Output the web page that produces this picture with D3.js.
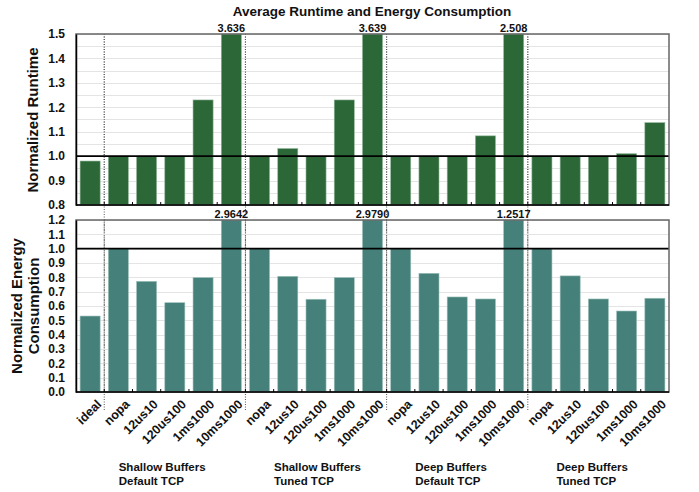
<!DOCTYPE html>
<html>
<head>
<meta charset="utf-8">
<script src="https://cdn.jsdelivr.net/npm/d3@7"></script>
<style>
  html, body { margin: 0; padding: 0; background: #fff; }
  svg { display: block; font-family: "Liberation Sans", Arial, Helvetica, sans-serif; font-weight: bold; }
</style>
</head>
<body>
<svg id="chart" width="699" height="492"></svg>
<script>
// Configurations along the x axis (one bar each)
const configs = ["ideal",
  "nopa", "12us10", "120us100", "1ms1000", "10ms1000",
  "nopa", "12us10", "120us100", "1ms1000", "10ms1000",
  "nopa", "12us10", "120us100", "1ms1000", "10ms1000",
  "nopa", "12us10", "120us100", "1ms1000", "10ms1000"];

// Group captions (two lines each)
const groupLines = [
  ["Shallow Buffers", "Default TCP"],
  ["Shallow Buffers", "Tuned TCP"],
  ["Deep Buffers", "Default TCP"],
  ["Deep Buffers", "Tuned TCP"]
];

// Normalized runtime per bar
const runtime = [0.98,
  1.0, 1.0, 1.0, 1.23, 3.636,
  1.0, 1.031, 1.0, 1.23, 3.639,
  1.0, 1.0, 1.0, 1.083, 2.508,
  1.0, 1.0, 1.0, 1.01, 1.137];

// Normalized energy consumption per bar
const energy = [0.53,
  1.0, 0.772, 0.623, 0.798, 2.9642,
  1.0, 0.807, 0.647, 0.798, 2.9790,
  1.0, 0.828, 0.663, 0.649, 1.2517,
  1.0, 0.81, 0.649, 0.565, 0.654];

const runtimeTicks = [0.8, 0.9, 1.0, 1.1, 1.2, 1.3, 1.4, 1.5];
const energyTicks = [0.0, 0.1, 0.2, 0.3, 0.4, 0.5, 0.6, 0.7, 0.8, 0.9, 1.0, 1.1, 1.2];

const svg = d3.select("#chart");
const left = 76, right = 669;
const idx = configs.map((_, i) => i);

const x = d3.scaleBand().domain(idx).range([left, right])
  .paddingInner(0.29).paddingOuter(0.145);
const boundary = i => x(i) - x.step() * x.paddingInner() / 2;

const panels = [
  { values: runtime, ticks: runtimeTicks, domain: [0.8, 1.5], range: [205, 34],
    grid: d3.range(0.8, 1.5001, 0.05), color: "#2c6737", edge: "#8fb598", fmt: d3.format(".3f") },
  { values: energy, ticks: energyTicks, domain: [0, 1.2], range: [392, 220],
    grid: d3.range(0, 1.2001, 0.1), color: "#46807a", edge: "#9cc0ba", fmt: d3.format(".4f") }
];

// Group separators (dotted) spanning both panels and into the labels
const sepIdx = [1, 6, 11, 16];
svg.append("g").selectAll("line").data(sepIdx).join("line")
  .attr("x1", boundary).attr("x2", boundary)
  .attr("y1", 34).attr("y2", 410)
  .attr("stroke", "#555").attr("stroke-width", 1).attr("stroke-dasharray", "1,1.5");

panels.forEach(p => {
  const y = d3.scaleLinear().domain(p.domain).range(p.range);
  const top = p.range[1], bottom = p.range[0];
  const g = svg.append("g");

  // light horizontal grid
  g.append("g").selectAll("line").data(p.grid).join("line")
    .attr("x1", left).attr("x2", right)
    .attr("y1", d => Math.round(y(d)) + 0.5).attr("y2", d => Math.round(y(d)) + 0.5)
    .attr("stroke", "#e4e4e4").attr("stroke-width", 1);

  // separators above the grid
  g.append("g").selectAll("line").data(sepIdx).join("line")
    .attr("x1", boundary).attr("x2", boundary)
    .attr("y1", top).attr("y2", bottom)
    .attr("stroke", "#555").attr("stroke-width", 1).attr("stroke-dasharray", "1,1.5");

  // bars, clipped at the top of the axis range
  const yMax = p.domain[1];
  g.append("g").selectAll("rect").data(p.values).join("rect")
    .attr("x", (d, i) => x(i))
    .attr("width", x.bandwidth())
    .attr("y", d => y(Math.min(d, yMax)))
    .attr("height", d => y(p.domain[0]) - y(Math.min(d, yMax)))
    .attr("fill", p.color)
    .attr("stroke", p.edge).attr("stroke-width", 0.6);

  // value labels for clipped bars
  g.append("g").selectAll("text").data(p.values.map((v, i) => ({ v, i })).filter(d => d.v > yMax)).join("text")
    .attr("x", d => x(d.i) + x.bandwidth() / 2)
    .attr("y", top - 2)
    .attr("text-anchor", "middle")
    .attr("font-size", 11)
    .attr("fill", "#111")
    .text(d => p.fmt(d.v));

  // reference line at 1.0
  g.append("line").attr("x1", left).attr("x2", right)
    .attr("y1", y(1.0)).attr("y2", y(1.0))
    .attr("stroke", "#000").attr("stroke-width", 1.6);

  // frame
  g.append("rect").attr("x", left).attr("y", top)
    .attr("width", right - left).attr("height", bottom - top)
    .attr("fill", "none").attr("stroke", "#666").attr("stroke-width", 1.5);

  // left axis with labels
  const yAxis = d3.axisLeft(y).tickValues(p.ticks).tickFormat(d3.format(".1f")).tickSize(0).tickPadding(11);
  const ya = g.append("g").attr("transform", `translate(${left},0)`).call(yAxis);
  ya.select(".domain").attr("stroke", "#000").attr("stroke-width", 1.5);
  ya.selectAll("text").attr("font-size", 12).attr("font-weight", "bold").attr("fill", "#111")
    .attr("font-family", "'Liberation Sans', Arial, sans-serif");

  // bottom axis line with small inward ticks at band boundaries
  g.append("line").attr("x1", left).attr("x2", right).attr("y1", bottom).attr("y2", bottom)
    .attr("stroke", "#000").attr("stroke-width", 1.5);
  g.append("g").selectAll("line").data(d3.range(1, configs.length)).join("line")
    .attr("x1", boundary).attr("x2", boundary)
    .attr("y1", bottom).attr("y2", bottom - 3)
    .attr("stroke", "#000").attr("stroke-width", 1);
});

// x tick labels, rotated
svg.append("g").selectAll("text").data(configs).join("text")
  .attr("transform", (d, i) => `translate(${x(i) + x.bandwidth() / 2 + 12},${405}) rotate(-45)`)
  .attr("text-anchor", "end")
  .attr("font-size", 12.5)
  .attr("fill", "#111")
  .text(d => d);

// group captions, left-aligned
const groupSpans = [[0, 5], [6, 10], [11, 15], [16, 20]];
groupLines.forEach((lines, gi) => {
  const [a, b] = groupSpans[gi];
  const cx = (x(a) + x(b) + x.bandwidth()) / 2;
  const t = svg.append("text").attr("font-size", 11.5).attr("fill", "#111")
    .attr("text-anchor", "start");
  lines.forEach((ln, li) => {
    t.append("tspan").attr("x", cx - 42).attr("y", 471 + li * 14).text(ln);
  });
});

// chart title
svg.append("text").attr("x", 372).attr("y", 16).attr("text-anchor", "middle")
  .attr("font-size", 13.5).attr("fill", "#111")
  .text("Average Runtime and Energy Consumption");

// y axis titles
svg.append("text").attr("transform", "translate(38,120) rotate(-90)")
  .attr("text-anchor", "middle").attr("font-size", 15).attr("fill", "#111")
  .text("Normalized Runtime");
const et = svg.append("text").attr("transform", "translate(0,306) rotate(-90)")
  .attr("text-anchor", "middle").attr("font-size", 15).attr("fill", "#111");
et.append("tspan").attr("x", 0).attr("y", 22).text("Normalized Energy");
et.append("tspan").attr("x", 0).attr("y", 39).text("Consumption");
</script>
</body>
</html>
